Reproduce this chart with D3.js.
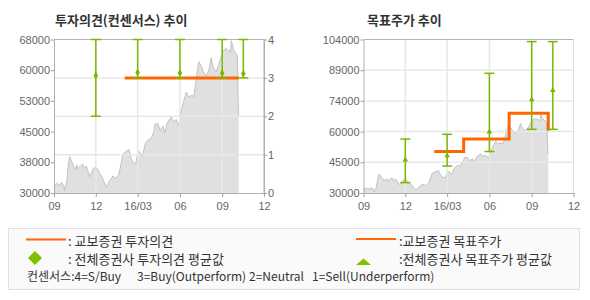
<!DOCTYPE html>
<html>
<head>
<meta charset="utf-8">
<script src="https://cdn.jsdelivr.net/npm/d3@7"></script>
<style>
body { margin: 0; background: #fff; }
svg { display: block; }
text { font-family: "Liberation Sans", Arial, sans-serif; }
.kr { font-family: "Noto Sans CJK KR", "Noto Sans", sans-serif; }
</style>
</head>
<body>
<svg id="chart" width="590" height="300"></svg>
<script>
// stock price
var priceDates = ["2015-09-01","2015-09-07","2015-09-10","2015-09-14","2015-09-17","2015-09-22","2015-09-24","2015-09-29",
    "2015-10-02","2015-10-05","2015-10-08","2015-10-13","2015-10-16","2015-10-21","2015-10-23","2015-10-27",
    "2015-11-02","2015-11-06","2015-11-10","2015-11-12","2015-11-18","2015-11-24","2015-11-30",
    "2015-12-04","2015-12-09","2015-12-14","2015-12-17","2015-12-24","2015-12-30",
    "2016-01-07","2016-01-14","2016-01-20","2016-01-25","2016-01-29",
    "2016-02-04","2016-02-11","2016-02-15","2016-02-19","2016-02-26",
    "2016-03-02","2016-03-07","2016-03-11","2016-03-18","2016-03-23","2016-03-31",
    "2016-04-05","2016-04-08","2016-04-14","2016-04-19","2016-04-25","2016-04-29",
    "2016-05-04","2016-05-13","2016-05-18","2016-05-24","2016-05-30",
    "2016-06-03","2016-06-09","2016-06-15","2016-06-20","2016-06-27",
    "2016-07-01","2016-07-07","2016-07-12","2016-07-18","2016-07-22","2016-07-28",
    "2016-08-03","2016-08-08","2016-08-12","2016-08-19","2016-08-24","2016-08-29",
    "2016-09-01","2016-09-06","2016-09-09","2016-09-19","2016-09-21","2016-09-26","2016-09-30",
    "2016-10-04","2016-10-05","2016-10-06","2016-10-07"];
var priceValues = [31700,32300,32200,31800,32600,31900,30600,32800,
    36700,39000,38200,36800,35700,36900,35900,36500,
    37200,36100,36700,36100,34000,35700,36500,
    36100,34900,34100,33200,31400,32800,
    34200,33600,34500,37300,39600,
    40200,40800,39000,37700,37300,
    40400,40000,39000,42300,43100,43500,
    45200,47100,47200,45400,46600,44900,
    47200,48900,47600,48200,46600,
    50100,52600,55000,53700,54200,
    53800,58600,62500,61400,60000,58900,
    60400,63500,61200,60000,61600,63500,
    64700,65500,65800,64900,67700,65400,64700,
    64100,57500,50900,48900];

var xTickDates = ["2015-09-01","2015-12-01","2016-03-01","2016-06-01","2016-09-01","2016-12-01"];
var xTickLabels = ["09","12","16/03","06","09","12"];

var opinionPriceLabels = ["30000","38000","45000","53000","60000","68000"];
var consensusTicks = [0, 1, 2, 3, 4];
var targetPriceLabels = ["30000","45000","60000","74000","89000","104000"];

// consensus (all brokers)
var consensusDates = ["2015-12-01","2016-03-01","2016-06-01","2016-09-01","2016-10-17"];
var consensusAvg  = [3.06, 3.14, 3.13, 3.12, 3.11];
var consensusHigh = [4, 4, 4, 4, 4];
var consensusLow  = [2, 3, 3, 3, 3];

// target price (all brokers)
var targetDates = ["2015-12-01","2016-03-01","2016-06-01","2016-09-01","2016-10-17"];
var targetAvg  = [46000, 48000, 59500, 75000, 79500];
var targetHigh = [56000, 58300, 87700, 103000, 103000];
var targetLow  = [35000, 43000, 50000, 60700, 60700];

// kyobo
var kyoboOpinionDates = ["2016-02-02","2016-10-07"];
var kyoboOpinionValues = [3, 3];
var kyoboTargetDates = ["2016-02-02","2016-04-06","2016-07-14","2016-10-07"];
var kyoboTargetValues = [50000, 56000, 68500, 60000];

var parse = d3.timeParse("%Y-%m-%d");
var green = "#79b800", orange = "#ff6600";
var svg = d3.select("#chart");

function drawPanel(p) {
    var x = d3.scaleTime()
        .domain([parse(xTickDates[0]), parse(xTickDates[xTickDates.length - 1])])
        .range([p.x0, p.x1]);
    var y = d3.scaleLinear().domain(p.priceDomain).range([p.y1, p.y0]);
    var yLab = d3.scalePoint().domain(p.priceLabels).range([p.y1, p.y0]);

    var g = svg.append("g");

    // price area
    var pts = priceDates.map(function (d, i) { return [parse(d), priceValues[i]]; });
    g.append("path")
        .datum(pts)
        .attr("fill", "#e0e0e0")
        .attr("d", d3.area().x(function (d) { return x(d[0]); }).y0(p.y1).y1(function (d) { return y(d[1]); }));
    g.append("path")
        .datum(pts)
        .attr("fill", "none")
        .attr("stroke", "#c2c2c2")
        .attr("stroke-width", 1)
        .attr("d", d3.line().x(function (d) { return x(d[0]); }).y(function (d) { return y(d[1]); }));

    // grid
    var grid = g.append("g").attr("stroke", "#e8e8e8").attr("stroke-width", 1.5);
    xTickDates.slice(1, -1).forEach(function (d) {
        grid.append("line").attr("x1", x(parse(d))).attr("x2", x(parse(d)))
            .attr("y1", p.y0).attr("y2", p.y1);
    });
    p.gridY.forEach(function (v) {
        grid.append("line").attr("x1", p.x0).attr("x2", p.x1)
            .attr("y1", v).attr("y2", v);
    });

    // frame
    g.append("line").attr("x1", p.x0).attr("x2", p.x1).attr("y1", p.y0).attr("y2", p.y0)
        .attr("stroke", "#b5b5b5");
    g.append("line").attr("x1", p.x1).attr("x2", p.x1).attr("y1", p.y0).attr("y2", p.y1)
        .attr("stroke", p.rightAxis ? "#b5b5b5" : "#dedede");

    // broker line
    var ky = p.kyoboDates.map(function (d, i) { return [parse(d), p.kyoboValues[i]]; });
    g.append("path")
        .datum(ky)
        .attr("fill", "none")
        .attr("stroke", orange)
        .attr("stroke-width", 3)
        .attr("d", d3.line().curve(d3.curveStepAfter)
            .x(function (d) { return x(d[0]); })
            .y(function (d) { return p.barScale(d[1]); }));

    // error bars
    var bars = g.append("g").attr("stroke", green).attr("stroke-width", 1.5);
    p.barDates.forEach(function (d, i) {
        var cx = x(parse(d));
        var hi = p.barScale(p.barHigh[i]), lo = p.barScale(p.barLow[i]);
        bars.append("line").attr("x1", cx).attr("x2", cx).attr("y1", hi).attr("y2", lo);
        bars.append("line").attr("x1", cx - 5).attr("x2", cx + 5).attr("y1", hi).attr("y2", hi);
        bars.append("line").attr("x1", cx - 5).attr("x2", cx + 5).attr("y1", lo).attr("y2", lo);
        g.append("path")
            .attr("transform", "translate(" + cx + "," + p.barScale(p.barAvg[i]) + ")")
            .attr("d", d3.symbol().type(p.marker).size(p.marker === d3.symbolTriangle ? 14 : 18)())
            .attr("fill", green);
    });

    // axes
    var xa = g.append("g")
        .attr("transform", "translate(0," + p.y1 + ")")
        .call(d3.axisBottom(x)
            .tickValues(xTickDates.map(parse))
            .tickFormat(function (d, i) { return xTickLabels[i]; })
            .tickSize(4).tickPadding(5).tickSizeOuter(0));
    var ya = g.append("g")
        .attr("transform", "translate(" + p.x0 + ",0)")
        .call(d3.axisLeft(yLab).tickSize(3).tickPadding(1).tickSizeOuter(0));
    var axes = [xa, ya];
    if (p.rightAxis) {
        var ra = g.append("g")
            .attr("transform", "translate(" + p.x1 + ",0)")
            .call(d3.axisRight(p.barScale).tickValues(consensusTicks).tickFormat(d3.format("d"))
                .tickSize(3).tickPadding(1).tickSizeOuter(0));
        axes.push(ra);
    }
    axes.forEach(function (a) {
        a.select(".domain").attr("stroke", "#b0b0b0");
        a.selectAll(".tick line").attr("stroke", "#a0a0a0");
        a.selectAll("text").attr("fill", "#666").style("font-size", "11px")
            .style("font-family", "'Liberation Sans', Arial, sans-serif");
    });

    svg.append("text").attr("class", "kr")
        .attr("x", p.titleX).attr("y", 25)
        .attr("fill", "#333").style("font-size", "13px").style("font-weight", "bold")
        .text(p.title);
}

var opScale = d3.scaleLinear().domain([0, 4]).range([193, 39.5]);
drawPanel({
    x0: 54, x1: 264, y0: 39.5, y1: 193,
    priceDomain: [30000, 68000], priceLabels: opinionPriceLabels,
    gridY: [1, 2, 3].map(opScale),
    rightAxis: true,
    barScale: opScale,
    barDates: consensusDates, barAvg: consensusAvg, barHigh: consensusHigh, barLow: consensusLow,
    kyoboDates: kyoboOpinionDates, kyoboValues: kyoboOpinionValues,
    marker: d3.symbolDiamond,
    title: "투자의견(컨센서스) 추이", titleX: 55
});

var tgScale = d3.scaleLinear().domain([30000, 104000]).range([193, 39.5]);
var tgLab = d3.scalePoint().domain(targetPriceLabels).range([193, 39.5]);
drawPanel({
    x0: 363.5, x1: 573.5, y0: 39.5, y1: 193,
    priceDomain: [30000, 104000], priceLabels: targetPriceLabels,
    gridY: targetPriceLabels.slice(1, -1).map(tgLab),
    rightAxis: false,
    barScale: tgScale,
    barDates: targetDates, barAvg: targetAvg, barHigh: targetHigh, barLow: targetLow,
    kyoboDates: kyoboTargetDates, kyoboValues: kyoboTargetValues,
    marker: d3.symbolTriangle,
    title: "목표주가 추이", titleX: 367
});

// legend
var lg = svg.append("g");
lg.append("rect").attr("x", 8.5).attr("y", 228.5).attr("width", 571).attr("height", 61)
    .attr("fill", "#fafafa").attr("stroke", "#e0e0e0");
lg.append("line").attr("x1", 26).attr("x2", 66).attr("y1", 239.5).attr("y2", 239.5)
    .attr("stroke", orange).attr("stroke-width", 2);
lg.append("line").attr("x1", 356).attr("x2", 396).attr("y1", 239).attr("y2", 239)
    .attr("stroke", orange).attr("stroke-width", 2);
lg.append("path").attr("d", "M35,251L42,258L35,265L28,258Z").attr("fill", "#80c000");
lg.append("path").attr("d", "M356,265L371,265L363.5,258.5Z").attr("fill", "#80c000");

var legendText = [
    [68, 246, ": 교보증권 투자의견"],
    [68, 264, ": 전체증권사 투자의견 평균값"],
    [399, 246, ":교보증권 목표주가"],
    [399, 264, ":전체증권사 목표주가 평균값"]
];
legendText.forEach(function (t) {
    lg.append("text").attr("class", "kr").attr("x", t[0]).attr("y", t[1])
        .attr("fill", "#333").style("font-size", "13px").text(t[2]);
});
var noteText = [
    [27, "컨센서스:4=S/Buy"],
    [137, "3=Buy(Outperform)"],
    [249, "2=Neutral"],
    [312, "1=Sell(Underperform)"]
];
noteText.forEach(function (t) {
    lg.append("text").attr("class", "kr").attr("x", t[0]).attr("y", 281)
        .attr("fill", "#333").style("font-size", "12px").text(t[1]);
});
</script>
</body>
</html>
